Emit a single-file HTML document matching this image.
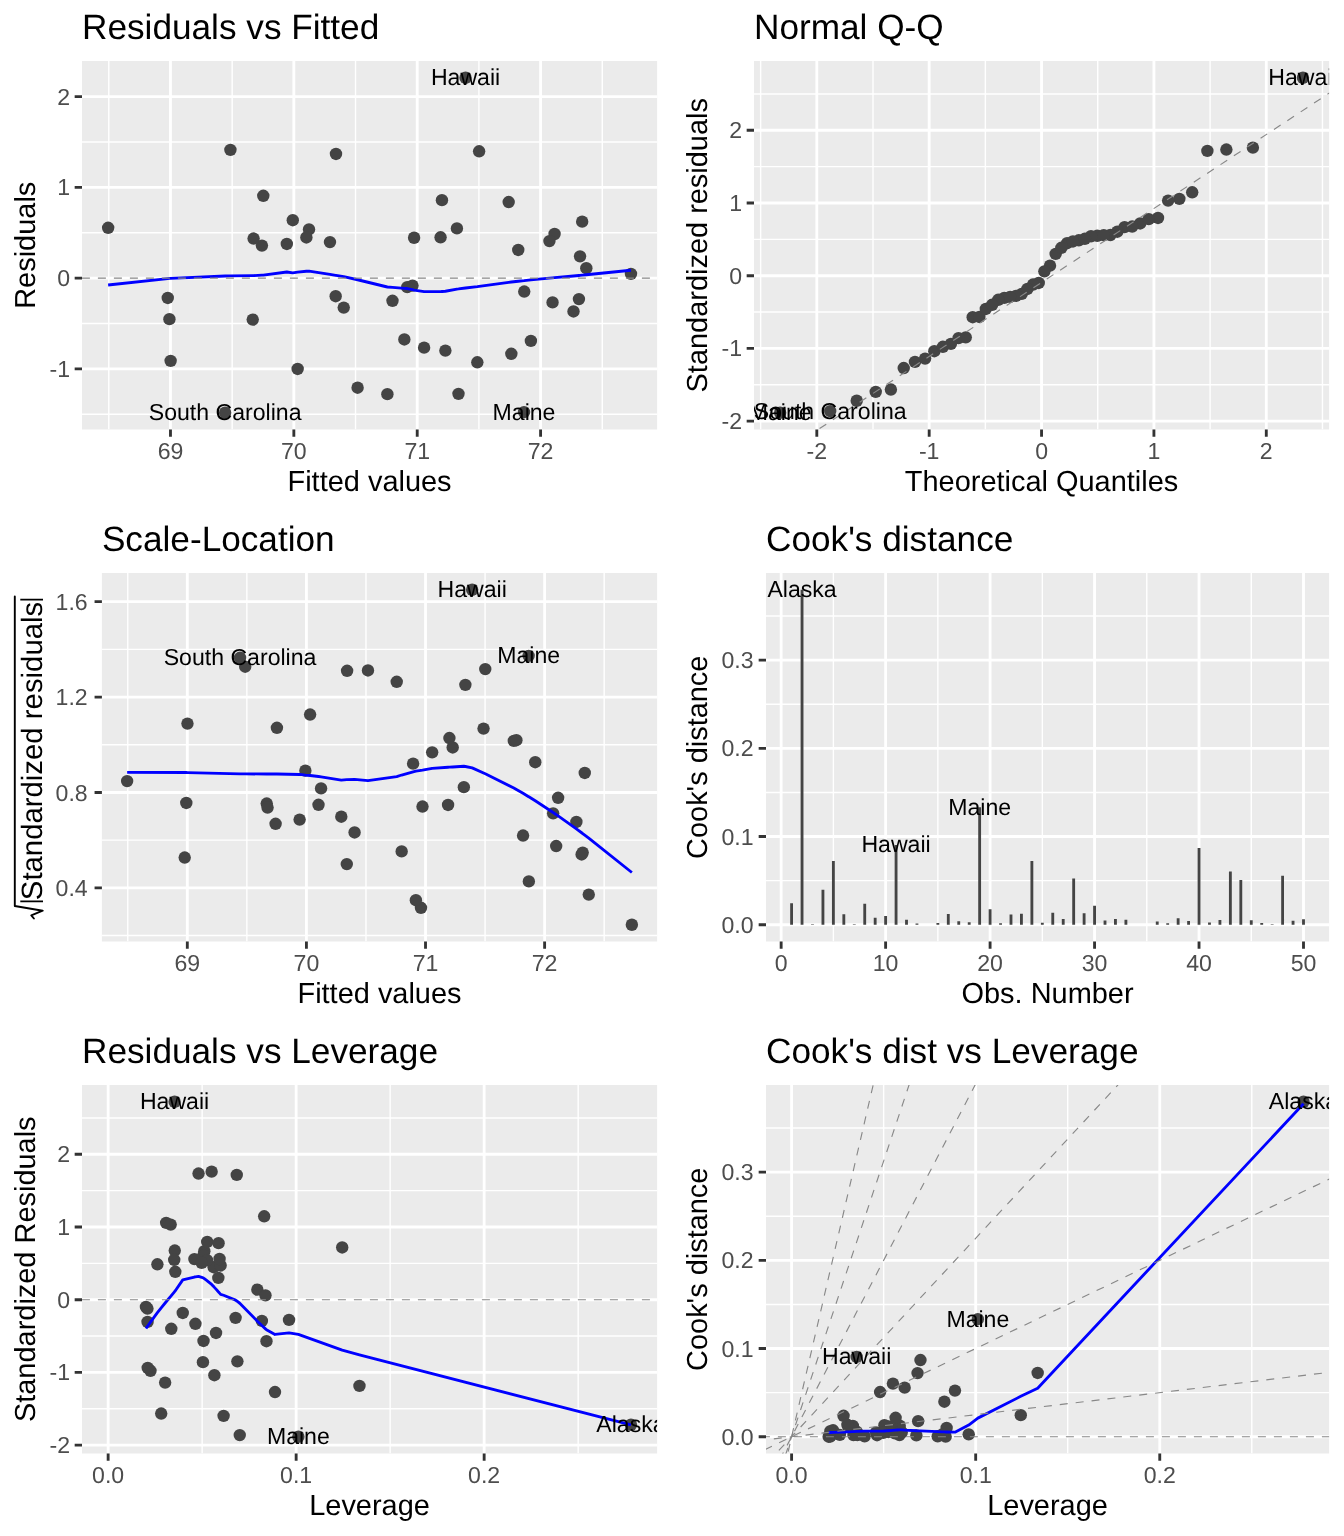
<!DOCTYPE html>
<html lang="en"><head><meta charset="utf-8"><title>lm diagnostics</title>
<style>html,body{margin:0;padding:0;background:#fff}svg{display:block}</style></head>
<body>
<svg width="1344" height="1536" viewBox="0 0 1344 1536" font-family='"Liberation Sans", Arial, Helvetica, sans-serif' fill="#000" text-rendering="geometricPrecision">
<g>
<clipPath id="c1"><rect x="82" y="61" width="575.1" height="368.5"/></clipPath>
<rect x="82" y="61" width="575.1" height="368.5" fill="#EBEBEB"/>
<g clip-path="url(#c1)">
<path d="M82 414.29H657.1M82 323.54H657.1M82 232.79H657.1M82 142.03H657.1M108.79 61V429.5M232.16 61V429.5M355.53 61V429.5M478.91 61V429.5M602.28 61V429.5" stroke="#fff" stroke-width="1.42" fill="none"/>
<path d="M82 368.92H657.1M82 278.16H657.1M82 187.41H657.1M82 96.66H657.1M170.47 61V429.5M293.85 61V429.5M417.22 61V429.5M540.59 61V429.5" stroke="#fff" stroke-width="2.85" fill="none"/>
<g fill="#444">
<circle cx="108.14" cy="227.77" r="6.2"/>
<circle cx="357.6" cy="387.68" r="6.2"/>
<circle cx="392.5" cy="300.82" r="6.2"/>
<circle cx="263.3" cy="195.8" r="6.2"/>
<circle cx="335.99" cy="153.98" r="6.2"/>
<circle cx="441.96" cy="200.17" r="6.2"/>
<circle cx="586.31" cy="268.23" r="6.2"/>
<circle cx="458.5" cy="393.84" r="6.2"/>
<circle cx="309.01" cy="229.42" r="6.2"/>
<circle cx="169.42" cy="319.14" r="6.2"/>
<circle cx="465.54" cy="77.75" r="6.2"/>
<circle cx="456.92" cy="228.41" r="6.2"/>
<circle cx="335.67" cy="296.22" r="6.2"/>
<circle cx="412.51" cy="285.59" r="6.2"/>
<circle cx="580.03" cy="256.35" r="6.2"/>
<circle cx="508.68" cy="202.05" r="6.2"/>
<circle cx="261.93" cy="245.61" r="6.2"/>
<circle cx="167.76" cy="297.95" r="6.2"/>
<circle cx="524.03" cy="412.09" r="6.2"/>
<circle cx="404.35" cy="339.49" r="6.2"/>
<circle cx="552.55" cy="302.39" r="6.2"/>
<circle cx="292.78" cy="220.2" r="6.2"/>
<circle cx="582.18" cy="221.63" r="6.2"/>
<circle cx="170.63" cy="360.86" r="6.2"/>
<circle cx="329.97" cy="242.11" r="6.2"/>
<circle cx="477.33" cy="362.31" r="6.2"/>
<circle cx="554.57" cy="234" r="6.2"/>
<circle cx="297.65" cy="368.99" r="6.2"/>
<circle cx="530.89" cy="340.9" r="6.2"/>
<circle cx="511.35" cy="353.76" r="6.2"/>
<circle cx="286.81" cy="243.94" r="6.2"/>
<circle cx="306.38" cy="237.47" r="6.2"/>
<circle cx="252.74" cy="319.62" r="6.2"/>
<circle cx="630.96" cy="273.85" r="6.2"/>
<circle cx="407.23" cy="287.15" r="6.2"/>
<circle cx="414.09" cy="237.75" r="6.2"/>
<circle cx="518.26" cy="249.93" r="6.2"/>
<circle cx="445.38" cy="350.61" r="6.2"/>
<circle cx="573.5" cy="311.44" r="6.2"/>
<circle cx="225.13" cy="412.75" r="6.2"/>
<circle cx="578.93" cy="299.1" r="6.2"/>
<circle cx="253.6" cy="238.57" r="6.2"/>
<circle cx="230.43" cy="149.84" r="6.2"/>
<circle cx="479.11" cy="151.26" r="6.2"/>
<circle cx="440.57" cy="237.26" r="6.2"/>
<circle cx="343.74" cy="307.6" r="6.2"/>
<circle cx="524.25" cy="291.55" r="6.2"/>
<circle cx="387.38" cy="394.16" r="6.2"/>
<circle cx="549.42" cy="241.09" r="6.2"/>
<circle cx="424.1" cy="347.66" r="6.2"/>
</g>
<path d="M108.14 285.01L167.76 278.58L169.42 278.44L170.63 278.34L225.13 276L230.43 275.94L252.74 275.61L253.6 275.58L261.93 275.19L263.3 275.1L286.81 272.02L292.78 272.86L297.65 272.18L306.38 271.26L309.01 271.15L329.97 274.42L335.67 275.3L335.99 275.35L343.74 276.63L357.6 279.75L387.38 287L392.5 287.43L404.35 288.33L407.23 288.54L412.51 289.67L414.09 290.06L424.1 291.65L440.57 291.56L441.96 291.47L445.38 291.27L456.92 289.1L458.5 288.94L465.54 287.97L477.33 286.62L479.11 286.37L508.68 282.33L511.35 282.01L518.26 281.22L524.03 280.6L524.25 280.57L530.89 279.9L549.42 278.16L552.55 277.87L554.57 277.69L573.5 275.97L578.93 275.46L580.03 275.36L582.18 275.16L586.31 274.77L630.96 270.23" stroke="#0000FF" stroke-width="2.85" fill="none" stroke-linejoin="round" stroke-linecap="butt"/>
<path d="M-493.1 278.16L1232.2 278.16" stroke="#888" stroke-width="1.14" stroke-dasharray="8 8" stroke-dashoffset="1" fill="none"/>
<g font-size="23.1" text-anchor="middle" fill="#000">
<text x="465.54" y="85.25">Hawaii</text>
<text x="225.13" y="420.25">South Carolina</text>
<text x="524.03" y="419.59">Maine</text>
</g>
</g>
<path d="M74.67 368.92H82M74.67 278.16H82M74.67 187.41H82M74.67 96.66H82M170.47 429.5V436.83M293.85 429.5V436.83M417.22 429.5V436.83M540.59 429.5V436.83" stroke="#333" stroke-width="2.85" fill="none"/>
<g font-size="23.1" fill="#4D4D4D">
<text x="170.47" y="459" text-anchor="middle">69</text>
<text x="293.85" y="459" text-anchor="middle">70</text>
<text x="417.22" y="459" text-anchor="middle">71</text>
<text x="540.59" y="459" text-anchor="middle">72</text>
<text x="70" y="376.97" text-anchor="end">-1</text>
<text x="70" y="286.21" text-anchor="end">0</text>
<text x="70" y="195.46" text-anchor="end">1</text>
<text x="70" y="104.71" text-anchor="end">2</text>
</g>
<text x="82" y="39.3" font-size="35.2">Residuals vs Fitted</text>
<text x="369.55" y="490.5" font-size="28.95" text-anchor="middle">Fitted values</text>
<text transform="translate(35 245.25) rotate(-90)" font-size="28.95" text-anchor="middle">Residuals</text>
</g>
<g>
<clipPath id="c2"><rect x="754" y="61" width="575.1" height="368.5"/></clipPath>
<rect x="754" y="61" width="575.1" height="368.5" fill="#EBEBEB"/>
<g clip-path="url(#c2)">
<path d="M754 384.77H1329.1M754 312.06H1329.1M754 239.35H1329.1M754 166.64H1329.1M754 93.93H1329.1M760.63 61V429.5M873 61V429.5M985.37 61V429.5M1097.73 61V429.5M1210.1 61V429.5M1322.47 61V429.5" stroke="#fff" stroke-width="1.42" fill="none"/>
<path d="M754 421.13H1329.1M754 348.42H1329.1M754 275.71H1329.1M754 202.99H1329.1M754 130.28H1329.1M816.81 61V429.5M929.18 61V429.5M1041.55 61V429.5M1153.92 61V429.5M1266.29 61V429.5" stroke="#fff" stroke-width="2.85" fill="none"/>
<g fill="#444">
<circle cx="1140.2" cy="223.46" r="6.2"/>
<circle cx="856.72" cy="400.75" r="6.2"/>
<circle cx="1004.26" cy="297.92" r="6.2"/>
<circle cx="1192.21" cy="192.26" r="6.2"/>
<circle cx="1207.38" cy="150.88" r="6.2"/>
<circle cx="1179.37" cy="198.84" r="6.2"/>
<circle cx="1050.01" cy="265.66" r="6.2"/>
<circle cx="890.89" cy="389.55" r="6.2"/>
<circle cx="1124.57" cy="227.16" r="6.2"/>
<circle cx="972.69" cy="317.24" r="6.2"/>
<circle cx="1302.96" cy="77.75" r="6.2"/>
<circle cx="1132.17" cy="226.56" r="6.2"/>
<circle cx="1021.73" cy="293.85" r="6.2"/>
<circle cx="1038.73" cy="282.98" r="6.2"/>
<circle cx="1055.67" cy="253.89" r="6.2"/>
<circle cx="1168.12" cy="200.61" r="6.2"/>
<circle cx="1067.12" cy="243.2" r="6.2"/>
<circle cx="1015.98" cy="295.9" r="6.2"/>
<circle cx="780.14" cy="412.75" r="6.2"/>
<circle cx="965.76" cy="337.35" r="6.2"/>
<circle cx="998.25" cy="299.77" r="6.2"/>
<circle cx="1158.01" cy="217.93" r="6.2"/>
<circle cx="1148.77" cy="219.17" r="6.2"/>
<circle cx="914.98" cy="361.91" r="6.2"/>
<circle cx="1078.84" cy="240.27" r="6.2"/>
<circle cx="925.09" cy="358.6" r="6.2"/>
<circle cx="1117.34" cy="231.73" r="6.2"/>
<circle cx="903.73" cy="368.02" r="6.2"/>
<circle cx="958.53" cy="338.17" r="6.2"/>
<circle cx="934.33" cy="351.2" r="6.2"/>
<circle cx="1072.94" cy="241.47" r="6.2"/>
<circle cx="1110.41" cy="235" r="6.2"/>
<circle cx="979.37" cy="316.98" r="6.2"/>
<circle cx="1044.37" cy="271.33" r="6.2"/>
<circle cx="1033.09" cy="284.52" r="6.2"/>
<circle cx="1097.27" cy="235.79" r="6.2"/>
<circle cx="1061.37" cy="247.82" r="6.2"/>
<circle cx="942.9" cy="346.79" r="6.2"/>
<circle cx="985.83" cy="308.96" r="6.2"/>
<circle cx="830.21" cy="411.1" r="6.2"/>
<circle cx="1010.16" cy="296.9" r="6.2"/>
<circle cx="1090.98" cy="236.25" r="6.2"/>
<circle cx="1252.89" cy="147.64" r="6.2"/>
<circle cx="1226.38" cy="149.52" r="6.2"/>
<circle cx="1103.73" cy="235.08" r="6.2"/>
<circle cx="992.12" cy="304.76" r="6.2"/>
<circle cx="1027.43" cy="288.96" r="6.2"/>
<circle cx="875.72" cy="391.86" r="6.2"/>
<circle cx="1084.85" cy="238.81" r="6.2"/>
<circle cx="950.93" cy="343.85" r="6.2"/>
</g>
<path d="M178.9 850.27L1904.2 -285.39" stroke="#888" stroke-width="1.14" stroke-dasharray="8 8" stroke-dashoffset="1" fill="none"/>
<g font-size="23.1" text-anchor="middle" fill="#000">
<text x="1302.96" y="85.25">Hawaii</text>
<text x="780.14" y="420.25">Maine</text>
<text x="830.21" y="418.6">South Carolina</text>
</g>
</g>
<path d="M746.67 421.13H754M746.67 348.42H754M746.67 275.71H754M746.67 202.99H754M746.67 130.28H754M816.81 429.5V436.83M929.18 429.5V436.83M1041.55 429.5V436.83M1153.92 429.5V436.83M1266.29 429.5V436.83" stroke="#333" stroke-width="2.85" fill="none"/>
<g font-size="23.1" fill="#4D4D4D">
<text x="816.81" y="459" text-anchor="middle">-2</text>
<text x="929.18" y="459" text-anchor="middle">-1</text>
<text x="1041.55" y="459" text-anchor="middle">0</text>
<text x="1153.92" y="459" text-anchor="middle">1</text>
<text x="1266.29" y="459" text-anchor="middle">2</text>
<text x="742" y="429.18" text-anchor="end">-2</text>
<text x="742" y="356.47" text-anchor="end">-1</text>
<text x="742" y="283.76" text-anchor="end">0</text>
<text x="742" y="211.04" text-anchor="end">1</text>
<text x="742" y="138.33" text-anchor="end">2</text>
</g>
<text x="754" y="39.3" font-size="35.2">Normal Q-Q</text>
<text x="1041.55" y="490.5" font-size="28.95" text-anchor="middle">Theoretical Quantiles</text>
<text transform="translate(707 245.25) rotate(-90)" font-size="28.95" text-anchor="middle">Standardized residuals</text>
</g>
<g>
<clipPath id="c3"><rect x="101.9" y="573" width="555.2" height="368.5"/></clipPath>
<rect x="101.9" y="573" width="555.2" height="368.5" fill="#EBEBEB"/>
<g clip-path="url(#c3)">
<path d="M101.9 935.53H657.1M101.9 840.14H657.1M101.9 744.75H657.1M101.9 649.37H657.1M127.76 573V941.5M246.86 573V941.5M365.97 573V941.5M485.07 573V941.5M604.18 573V941.5" stroke="#fff" stroke-width="1.42" fill="none"/>
<path d="M101.9 887.84H657.1M101.9 792.45H657.1M101.9 697.06H657.1M101.9 601.67H657.1M187.31 573V941.5M306.42 573V941.5M425.52 573V941.5M544.62 573V941.5" stroke="#fff" stroke-width="2.85" fill="none"/>
<g fill="#444">
<circle cx="127.14" cy="781.09" r="6.2"/>
<circle cx="367.97" cy="670.49" r="6.2"/>
<circle cx="401.66" cy="851.41" r="6.2"/>
<circle cx="276.93" cy="727.76" r="6.2"/>
<circle cx="347.1" cy="670.78" r="6.2"/>
<circle cx="449.41" cy="738.04" r="6.2"/>
<circle cx="588.76" cy="894.6" r="6.2"/>
<circle cx="465.38" cy="684.84" r="6.2"/>
<circle cx="321.06" cy="788.38" r="6.2"/>
<circle cx="186.3" cy="802.98" r="6.2"/>
<circle cx="472.17" cy="589.75" r="6.2"/>
<circle cx="463.85" cy="787.17" r="6.2"/>
<circle cx="346.79" cy="864.09" r="6.2"/>
<circle cx="420.97" cy="907.78" r="6.2"/>
<circle cx="582.69" cy="852.62" r="6.2"/>
<circle cx="513.82" cy="740.88" r="6.2"/>
<circle cx="275.6" cy="823.78" r="6.2"/>
<circle cx="184.7" cy="857.55" r="6.2"/>
<circle cx="528.63" cy="655.84" r="6.2"/>
<circle cx="413.1" cy="763.64" r="6.2"/>
<circle cx="556.17" cy="846.03" r="6.2"/>
<circle cx="305.38" cy="770.66" r="6.2"/>
<circle cx="584.77" cy="772.95" r="6.2"/>
<circle cx="187.46" cy="723.58" r="6.2"/>
<circle cx="341.29" cy="816.74" r="6.2"/>
<circle cx="483.55" cy="728.6" r="6.2"/>
<circle cx="558.12" cy="797.77" r="6.2"/>
<circle cx="310.09" cy="714.53" r="6.2"/>
<circle cx="535.25" cy="762.2" r="6.2"/>
<circle cx="516.39" cy="740.23" r="6.2"/>
<circle cx="299.62" cy="819.59" r="6.2"/>
<circle cx="318.51" cy="804.8" r="6.2"/>
<circle cx="266.73" cy="803.55" r="6.2"/>
<circle cx="631.86" cy="924.75" r="6.2"/>
<circle cx="415.88" cy="900.2" r="6.2"/>
<circle cx="422.5" cy="806.54" r="6.2"/>
<circle cx="523.06" cy="835.54" r="6.2"/>
<circle cx="452.7" cy="747.44" r="6.2"/>
<circle cx="576.39" cy="821.95" r="6.2"/>
<circle cx="240.07" cy="657.81" r="6.2"/>
<circle cx="581.63" cy="854.46" r="6.2"/>
<circle cx="267.56" cy="807.55" r="6.2"/>
<circle cx="245.2" cy="666.74" r="6.2"/>
<circle cx="485.27" cy="669.08" r="6.2"/>
<circle cx="448.07" cy="804.98" r="6.2"/>
<circle cx="354.58" cy="832.48" r="6.2"/>
<circle cx="528.85" cy="881.4" r="6.2"/>
<circle cx="396.72" cy="681.82" r="6.2"/>
<circle cx="553.14" cy="813.36" r="6.2"/>
<circle cx="432.16" cy="752.37" r="6.2"/>
</g>
<path d="M127.14 772.31L184.7 772.5L186.3 772.53L187.46 772.55L240.07 773.81L245.2 773.89L266.73 774.01L267.56 774.01L275.6 774L276.93 773.99L299.62 774.46L305.38 775.18L310.09 775.53L318.51 776.48L321.06 776.89L341.29 780.11L346.79 779.6L347.1 779.57L354.58 779.39L367.97 780.57L396.72 776.64L401.66 775.02L413.1 771.82L415.88 771.18L420.97 770.35L422.5 770.12L432.16 768.33L448.07 767.27L449.41 767.2L452.7 767.03L463.85 766.24L465.38 766.51L472.17 767.83L483.55 772.99L485.27 773.79L513.82 787.93L516.39 789.39L523.06 793.29L528.63 796.67L528.85 796.8L535.25 800.8L553.14 812.53L556.17 814.6L558.12 815.93L576.39 828.89L581.63 832.74L582.69 833.53L584.77 835.08L588.76 838.08L631.86 872.49" stroke="#0000FF" stroke-width="2.85" fill="none" stroke-linejoin="round" stroke-linecap="butt"/>
<g font-size="23.1" text-anchor="middle" fill="#000">
<text x="472.17" y="597.25">Hawaii</text>
<text x="528.63" y="663.34">Maine</text>
<text x="240.07" y="665.31">South Carolina</text>
</g>
</g>
<path d="M94.57 887.84H101.9M94.57 792.45H101.9M94.57 697.06H101.9M94.57 601.67H101.9M187.31 941.5V948.83M306.42 941.5V948.83M425.52 941.5V948.83M544.62 941.5V948.83" stroke="#333" stroke-width="2.85" fill="none"/>
<g font-size="23.1" fill="#4D4D4D">
<text x="187.31" y="971" text-anchor="middle">69</text>
<text x="306.42" y="971" text-anchor="middle">70</text>
<text x="425.52" y="971" text-anchor="middle">71</text>
<text x="544.62" y="971" text-anchor="middle">72</text>
<text x="87.7" y="895.89" text-anchor="end">0.4</text>
<text x="87.7" y="800.5" text-anchor="end">0.8</text>
<text x="87.7" y="705.11" text-anchor="end">1.2</text>
<text x="87.7" y="609.72" text-anchor="end">1.6</text>
</g>
<text x="101.9" y="551.3" font-size="35.2">Scale-Location</text>
<text x="379.5" y="1002.5" font-size="28.95" text-anchor="middle">Fitted values</text>
<text transform="translate(42.2 751) rotate(-90)" font-size="29.33" text-anchor="middle">Standardized residuals</text>
<path d="M20.3 901.4H43 M20.3 599.6H43" stroke="#000" stroke-width="1.9" fill="none"/>
<path d="M33.9 918.5 L31.3 915.4 L42.7 910.7 L14.8 906 V596.5" stroke="#000" stroke-width="1.9" fill="none" stroke-linejoin="round" stroke-linecap="round"/>
</g>
<g>
<clipPath id="c4"><rect x="766" y="573" width="563.1" height="368.5"/></clipPath>
<rect x="766" y="573" width="563.1" height="368.5" fill="#EBEBEB"/>
<g clip-path="url(#c4)">
<path d="M766 880.64H1329.1M766 792.43H1329.1M766 704.22H1329.1M766 616.01H1329.1M833.38 573V941.5M937.86 573V941.5M1042.33 573V941.5M1146.8 573V941.5M1251.27 573V941.5" stroke="#fff" stroke-width="1.42" fill="none"/>
<path d="M766 924.75H1329.1M766 836.54H1329.1M766 748.33H1329.1M766 660.12H1329.1M781.15 573V941.5M885.62 573V941.5M990.09 573V941.5M1094.56 573V941.5M1199.03 573V941.5M1303.5 573V941.5" stroke="#fff" stroke-width="2.85" fill="none"/>
<path d="M791.6 924.75V903.16M802.04 924.75V589.75M812.49 924.75V924.16M822.94 924.75V889.71M833.38 924.75V861.11M843.83 924.75V914.29M854.28 924.75V924.27M864.73 924.75V903.82M875.17 924.75V917.68M885.62 924.75V915.93M896.07 924.75V844.9M906.51 924.75V919.82M916.96 924.75V923.42M927.41 924.75V924.69M937.86 924.75V923.1M948.3 924.75V913.96M958.75 924.75V921.26M969.2 924.75V922.34M979.64 924.75V807.17M990.09 924.75V909.15M1000.54 924.75V923.18M1010.99 924.75V914.42M1021.43 924.75V913.66M1031.88 924.75V860.99M1042.33 924.75V922.87M1052.77 924.75V912.8M1063.22 924.75V919.02M1073.67 924.75V878.59M1084.11 924.75V913.23M1094.56 924.75V905.76M1105.01 924.75V920.6M1115.46 924.75V918.94M1125.9 924.75V919.69M1136.35 924.75V924.65M1146.8 924.75V924.66M1157.24 924.75V921.52M1167.69 924.75V923.15M1178.14 924.75V918.28M1188.59 924.75V921.01M1199.03 924.75V848.01M1209.48 924.75V922.52M1219.93 924.75V919.94M1230.37 924.75V871.61M1240.82 924.75V880.03M1251.27 924.75V920.34M1261.72 924.75V923.12M1272.16 924.75V924.35M1282.61 924.75V875.65M1293.06 924.75V920.79M1303.5 924.75V919.2" stroke="#444" stroke-width="2.85" fill="none"/>
<g font-size="23.1" text-anchor="middle" fill="#000">
<text x="802.04" y="597.25">Alaska</text>
<text x="979.64" y="814.67">Maine</text>
<text x="896.07" y="852.4">Hawaii</text>
</g>
</g>
<path d="M758.67 924.75H766M758.67 836.54H766M758.67 748.33H766M758.67 660.12H766M781.15 941.5V948.83M885.62 941.5V948.83M990.09 941.5V948.83M1094.56 941.5V948.83M1199.03 941.5V948.83M1303.5 941.5V948.83" stroke="#333" stroke-width="2.85" fill="none"/>
<g font-size="23.1" fill="#4D4D4D">
<text x="781.15" y="971" text-anchor="middle">0</text>
<text x="885.62" y="971" text-anchor="middle">10</text>
<text x="990.09" y="971" text-anchor="middle">20</text>
<text x="1094.56" y="971" text-anchor="middle">30</text>
<text x="1199.03" y="971" text-anchor="middle">40</text>
<text x="1303.5" y="971" text-anchor="middle">50</text>
<text x="753.6" y="932.8" text-anchor="end">0.0</text>
<text x="753.6" y="844.59" text-anchor="end">0.1</text>
<text x="753.6" y="756.38" text-anchor="end">0.2</text>
<text x="753.6" y="668.17" text-anchor="end">0.3</text>
</g>
<text x="766" y="551.3" font-size="35.2">Cook's distance</text>
<text x="1047.55" y="1002.5" font-size="28.95" text-anchor="middle">Obs. Number</text>
<text transform="translate(707 757.25) rotate(-90)" font-size="28.95" text-anchor="middle">Cook's distance</text>
</g>
<g>
<clipPath id="c5"><rect x="82" y="1085" width="575.1" height="368.5"/></clipPath>
<rect x="82" y="1085" width="575.1" height="368.5" fill="#EBEBEB"/>
<g clip-path="url(#c5)">
<path d="M82 1408.77H657.1M82 1336.06H657.1M82 1263.35H657.1M82 1190.64H657.1M82 1117.93H657.1M202.14 1085V1453.5M390.15 1085V1453.5M578.16 1085V1453.5" stroke="#fff" stroke-width="1.42" fill="none"/>
<path d="M82 1445.13H657.1M82 1372.42H657.1M82 1299.71H657.1M82 1226.99H657.1M82 1154.28H657.1M108.14 1085V1453.5M296.15 1085V1453.5M484.15 1085V1453.5" stroke="#fff" stroke-width="2.85" fill="none"/>
<g fill="#444">
<circle cx="342.21" cy="1247.46" r="6.2"/>
<circle cx="630.96" cy="1424.75" r="6.2"/>
<circle cx="147.55" cy="1321.92" r="6.2"/>
<circle cx="264.17" cy="1216.26" r="6.2"/>
<circle cx="236.76" cy="1174.88" r="6.2"/>
<circle cx="166.16" cy="1222.84" r="6.2"/>
<circle cx="257.36" cy="1289.66" r="6.2"/>
<circle cx="161.2" cy="1413.55" r="6.2"/>
<circle cx="204.33" cy="1251.16" r="6.2"/>
<circle cx="266.47" cy="1341.24" r="6.2"/>
<circle cx="174.59" cy="1101.75" r="6.2"/>
<circle cx="174.76" cy="1250.56" r="6.2"/>
<circle cx="235.58" cy="1317.85" r="6.2"/>
<circle cx="145.97" cy="1306.98" r="6.2"/>
<circle cx="218.34" cy="1277.89" r="6.2"/>
<circle cx="170.69" cy="1224.61" r="6.2"/>
<circle cx="213.65" cy="1267.2" r="6.2"/>
<circle cx="289.03" cy="1319.9" r="6.2"/>
<circle cx="298.36" cy="1436.75" r="6.2"/>
<circle cx="237.39" cy="1361.35" r="6.2"/>
<circle cx="195.42" cy="1323.77" r="6.2"/>
<circle cx="207.23" cy="1241.93" r="6.2"/>
<circle cx="218.56" cy="1243.17" r="6.2"/>
<circle cx="359.46" cy="1385.91" r="6.2"/>
<circle cx="157.4" cy="1264.27" r="6.2"/>
<circle cx="165.14" cy="1382.6" r="6.2"/>
<circle cx="203.26" cy="1255.73" r="6.2"/>
<circle cx="274.99" cy="1392.02" r="6.2"/>
<circle cx="202.94" cy="1362.17" r="6.2"/>
<circle cx="214.38" cy="1375.2" r="6.2"/>
<circle cx="220.62" cy="1265.47" r="6.2"/>
<circle cx="219.56" cy="1259" r="6.2"/>
<circle cx="203.52" cy="1340.98" r="6.2"/>
<circle cx="265.49" cy="1295.33" r="6.2"/>
<circle cx="147.45" cy="1308.52" r="6.2"/>
<circle cx="174.22" cy="1259.79" r="6.2"/>
<circle cx="175.31" cy="1271.82" r="6.2"/>
<circle cx="150.48" cy="1370.79" r="6.2"/>
<circle cx="216.02" cy="1332.96" r="6.2"/>
<circle cx="239.76" cy="1435.1" r="6.2"/>
<circle cx="261.88" cy="1320.9" r="6.2"/>
<circle cx="207" cy="1260.25" r="6.2"/>
<circle cx="211.64" cy="1171.64" r="6.2"/>
<circle cx="198.53" cy="1173.52" r="6.2"/>
<circle cx="194.39" cy="1259.08" r="6.2"/>
<circle cx="171.3" cy="1328.76" r="6.2"/>
<circle cx="182.75" cy="1312.96" r="6.2"/>
<circle cx="223.61" cy="1415.86" r="6.2"/>
<circle cx="201.68" cy="1262.81" r="6.2"/>
<circle cx="147.73" cy="1367.85" r="6.2"/>
</g>
<path d="M145.97 1328.55L147.45 1326.43L147.55 1326.29L147.73 1326.03L150.48 1322.08L157.4 1312.67L161.2 1307.8L165.14 1302.98L166.16 1301.76L170.69 1296.41L171.3 1295.65L174.22 1292.05L174.59 1291.61L174.76 1291.4L175.31 1290.73L182.75 1279.87L194.39 1277.03L195.42 1276.87L198.53 1276.38L201.68 1277.36L202.94 1277.75L203.26 1277.85L203.52 1278.04L204.33 1278.66L207 1280.68L207.23 1280.85L211.64 1284.41L213.65 1286.57L214.38 1287.35L216.02 1289.1L218.34 1291.76L218.56 1292L219.56 1293.15L220.62 1294.36L223.61 1295.25L235.58 1300.13L236.76 1301.01L237.39 1301.49L239.76 1303.26L257.36 1321.21L261.88 1325.55L264.17 1327.62L265.49 1328.83L266.47 1329.72L274.99 1334.45L289.03 1332.82L298.36 1334.42L342.21 1350.2L359.46 1354.99L630.96 1424.84" stroke="#0000FF" stroke-width="2.85" fill="none" stroke-linejoin="round" stroke-linecap="butt"/>
<path d="M-493.1 1299.71L1232.2 1299.71" stroke="#888" stroke-width="1.14" stroke-dasharray="8 8" stroke-dashoffset="1" fill="none"/>
<g font-size="23.1" text-anchor="middle" fill="#000">
<text x="630.96" y="1432.25">Alaska</text>
<text x="298.36" y="1444.25">Maine</text>
<text x="174.59" y="1109.25">Hawaii</text>
</g>
</g>
<path d="M74.67 1445.13H82M74.67 1372.42H82M74.67 1299.71H82M74.67 1226.99H82M74.67 1154.28H82M108.14 1453.5V1460.83M296.15 1453.5V1460.83M484.15 1453.5V1460.83" stroke="#333" stroke-width="2.85" fill="none"/>
<g font-size="23.1" fill="#4D4D4D">
<text x="108.14" y="1483" text-anchor="middle">0.0</text>
<text x="296.15" y="1483" text-anchor="middle">0.1</text>
<text x="484.15" y="1483" text-anchor="middle">0.2</text>
<text x="70" y="1453.18" text-anchor="end">-2</text>
<text x="70" y="1380.47" text-anchor="end">-1</text>
<text x="70" y="1307.76" text-anchor="end">0</text>
<text x="70" y="1235.04" text-anchor="end">1</text>
<text x="70" y="1162.33" text-anchor="end">2</text>
</g>
<text x="82" y="1063.3" font-size="35.2">Residuals vs Leverage</text>
<text x="369.55" y="1514.5" font-size="28.95" text-anchor="middle">Leverage</text>
<text transform="translate(35 1269.25) rotate(-90)" font-size="28.95" text-anchor="middle">Standardized Residuals</text>
</g>
<g>
<clipPath id="c6"><rect x="766" y="1085" width="563.1" height="368.5"/></clipPath>
<rect x="766" y="1085" width="563.1" height="368.5" fill="#EBEBEB"/>
<g clip-path="url(#c6)">
<path d="M766 1392.64H1329.1M766 1304.43H1329.1M766 1216.22H1329.1M766 1128.01H1329.1M883.64 1085V1453.5M1067.72 1085V1453.5M1251.8 1085V1453.5" stroke="#fff" stroke-width="1.42" fill="none"/>
<path d="M766 1436.75H1329.1M766 1348.54H1329.1M766 1260.33H1329.1M766 1172.12H1329.1M791.6 1085V1453.5M975.68 1085V1453.5M1159.76 1085V1453.5" stroke="#fff" stroke-width="2.85" fill="none"/>
<g fill="#444">
<circle cx="1020.78" cy="1415.16" r="6.2"/>
<circle cx="1303.5" cy="1101.75" r="6.2"/>
<circle cx="830.18" cy="1436.16" r="6.2"/>
<circle cx="944.37" cy="1401.71" r="6.2"/>
<circle cx="917.54" cy="1373.11" r="6.2"/>
<circle cx="848.4" cy="1426.29" r="6.2"/>
<circle cx="937.7" cy="1436.27" r="6.2"/>
<circle cx="843.55" cy="1415.82" r="6.2"/>
<circle cx="885.78" cy="1429.68" r="6.2"/>
<circle cx="946.62" cy="1427.93" r="6.2"/>
<circle cx="856.65" cy="1356.9" r="6.2"/>
<circle cx="856.82" cy="1431.82" r="6.2"/>
<circle cx="916.38" cy="1435.42" r="6.2"/>
<circle cx="828.64" cy="1436.69" r="6.2"/>
<circle cx="899.5" cy="1435.1" r="6.2"/>
<circle cx="852.84" cy="1425.96" r="6.2"/>
<circle cx="894.9" cy="1433.26" r="6.2"/>
<circle cx="968.71" cy="1434.34" r="6.2"/>
<circle cx="977.85" cy="1319.17" r="6.2"/>
<circle cx="918.15" cy="1421.15" r="6.2"/>
<circle cx="877.05" cy="1435.18" r="6.2"/>
<circle cx="888.62" cy="1426.42" r="6.2"/>
<circle cx="899.71" cy="1425.66" r="6.2"/>
<circle cx="1037.67" cy="1372.99" r="6.2"/>
<circle cx="839.83" cy="1434.87" r="6.2"/>
<circle cx="847.4" cy="1424.8" r="6.2"/>
<circle cx="884.73" cy="1431.02" r="6.2"/>
<circle cx="954.97" cy="1390.59" r="6.2"/>
<circle cx="884.42" cy="1425.23" r="6.2"/>
<circle cx="895.62" cy="1417.76" r="6.2"/>
<circle cx="901.72" cy="1432.6" r="6.2"/>
<circle cx="900.69" cy="1430.94" r="6.2"/>
<circle cx="884.98" cy="1431.69" r="6.2"/>
<circle cx="945.66" cy="1436.65" r="6.2"/>
<circle cx="830.08" cy="1436.66" r="6.2"/>
<circle cx="856.3" cy="1433.52" r="6.2"/>
<circle cx="857.36" cy="1435.15" r="6.2"/>
<circle cx="833.05" cy="1430.28" r="6.2"/>
<circle cx="897.22" cy="1433.01" r="6.2"/>
<circle cx="920.47" cy="1360.01" r="6.2"/>
<circle cx="942.13" cy="1434.52" r="6.2"/>
<circle cx="888.39" cy="1431.94" r="6.2"/>
<circle cx="892.93" cy="1383.61" r="6.2"/>
<circle cx="880.1" cy="1392.03" r="6.2"/>
<circle cx="876.05" cy="1432.34" r="6.2"/>
<circle cx="853.44" cy="1435.12" r="6.2"/>
<circle cx="864.65" cy="1436.35" r="6.2"/>
<circle cx="904.65" cy="1387.65" r="6.2"/>
<circle cx="883.18" cy="1432.79" r="6.2"/>
<circle cx="830.36" cy="1431.2" r="6.2"/>
</g>
<path d="M828.64 1432.61L830.08 1432.54L830.18 1432.54L830.36 1432.53L833.05 1432.41L839.83 1432.15L843.55 1432.02L847.4 1431.87L848.4 1431.83L852.84 1431.63L853.44 1431.6L856.3 1431.43L856.65 1431.41L856.82 1431.41L857.36 1431.38L864.65 1431.16L876.05 1431.1L877.05 1431.12L880.1 1431.2L883.18 1431.09L884.42 1431.04L884.73 1431.03L884.98 1431.01L885.78 1430.94L888.39 1430.74L888.62 1430.72L892.93 1430.36L894.9 1430.2L895.62 1430.15L897.22 1430.03L899.5 1429.95L899.71 1429.94L900.69 1429.9L901.72 1429.87L904.65 1430.13L916.38 1430.77L917.54 1430.81L918.15 1430.83L920.47 1430.92L937.7 1431.59L942.13 1431.83L944.37 1431.92L945.66 1431.97L946.62 1432L954.97 1432.15L968.71 1425.06L977.85 1418.13L1020.78 1396.35L1037.67 1388.18L1303.5 1103.84" stroke="#0000FF" stroke-width="2.85" fill="none" stroke-linejoin="round" stroke-linecap="butt"/>
<path d="M202.9 1436.75L1892.2 1436.75" stroke="#888" stroke-width="1.14" stroke-dasharray="8 8" stroke-dashoffset="1" fill="none"/>
<path d="M202.9 1507.27L1892.2 1304.9" stroke="#888" stroke-width="1.14" stroke-dasharray="8 8" stroke-dashoffset="1" fill="none"/>
<path d="M202.9 1718.85L1892.2 909.35" stroke="#888" stroke-width="1.14" stroke-dasharray="8 8" stroke-dashoffset="1" fill="none"/>
<path d="M202.9 2071.47L1892.2 250.1" stroke="#888" stroke-width="1.14" stroke-dasharray="8 8" stroke-dashoffset="1" fill="none"/>
<path d="M202.9 2565.14L1892.2 -672.85" stroke="#888" stroke-width="1.14" stroke-dasharray="8 8" stroke-dashoffset="1" fill="none"/>
<path d="M202.9 3199.86L1892.2 -1859.5" stroke="#888" stroke-width="1.14" stroke-dasharray="8 8" stroke-dashoffset="1" fill="none"/>
<path d="M202.9 3975.63L1892.2 -3309.85" stroke="#888" stroke-width="1.14" stroke-dasharray="8 8" stroke-dashoffset="1" fill="none"/>
<g font-size="23.1" text-anchor="middle" fill="#000">
<text x="1303.5" y="1109.25">Alaska</text>
<text x="977.85" y="1326.67">Maine</text>
<text x="856.65" y="1364.4">Hawaii</text>
</g>
</g>
<path d="M758.67 1436.75H766M758.67 1348.54H766M758.67 1260.33H766M758.67 1172.12H766M791.6 1453.5V1460.83M975.68 1453.5V1460.83M1159.76 1453.5V1460.83" stroke="#333" stroke-width="2.85" fill="none"/>
<g font-size="23.1" fill="#4D4D4D">
<text x="791.6" y="1483" text-anchor="middle">0.0</text>
<text x="975.68" y="1483" text-anchor="middle">0.1</text>
<text x="1159.76" y="1483" text-anchor="middle">0.2</text>
<text x="753.6" y="1444.8" text-anchor="end">0.0</text>
<text x="753.6" y="1356.59" text-anchor="end">0.1</text>
<text x="753.6" y="1268.38" text-anchor="end">0.2</text>
<text x="753.6" y="1180.17" text-anchor="end">0.3</text>
</g>
<text x="766" y="1063.3" font-size="35.2">Cook's dist vs Leverage</text>
<text x="1047.55" y="1514.5" font-size="28.95" text-anchor="middle">Leverage</text>
<text transform="translate(707 1269.25) rotate(-90)" font-size="28.95" text-anchor="middle">Cook's distance</text>
</g>
</svg>
</body></html>
